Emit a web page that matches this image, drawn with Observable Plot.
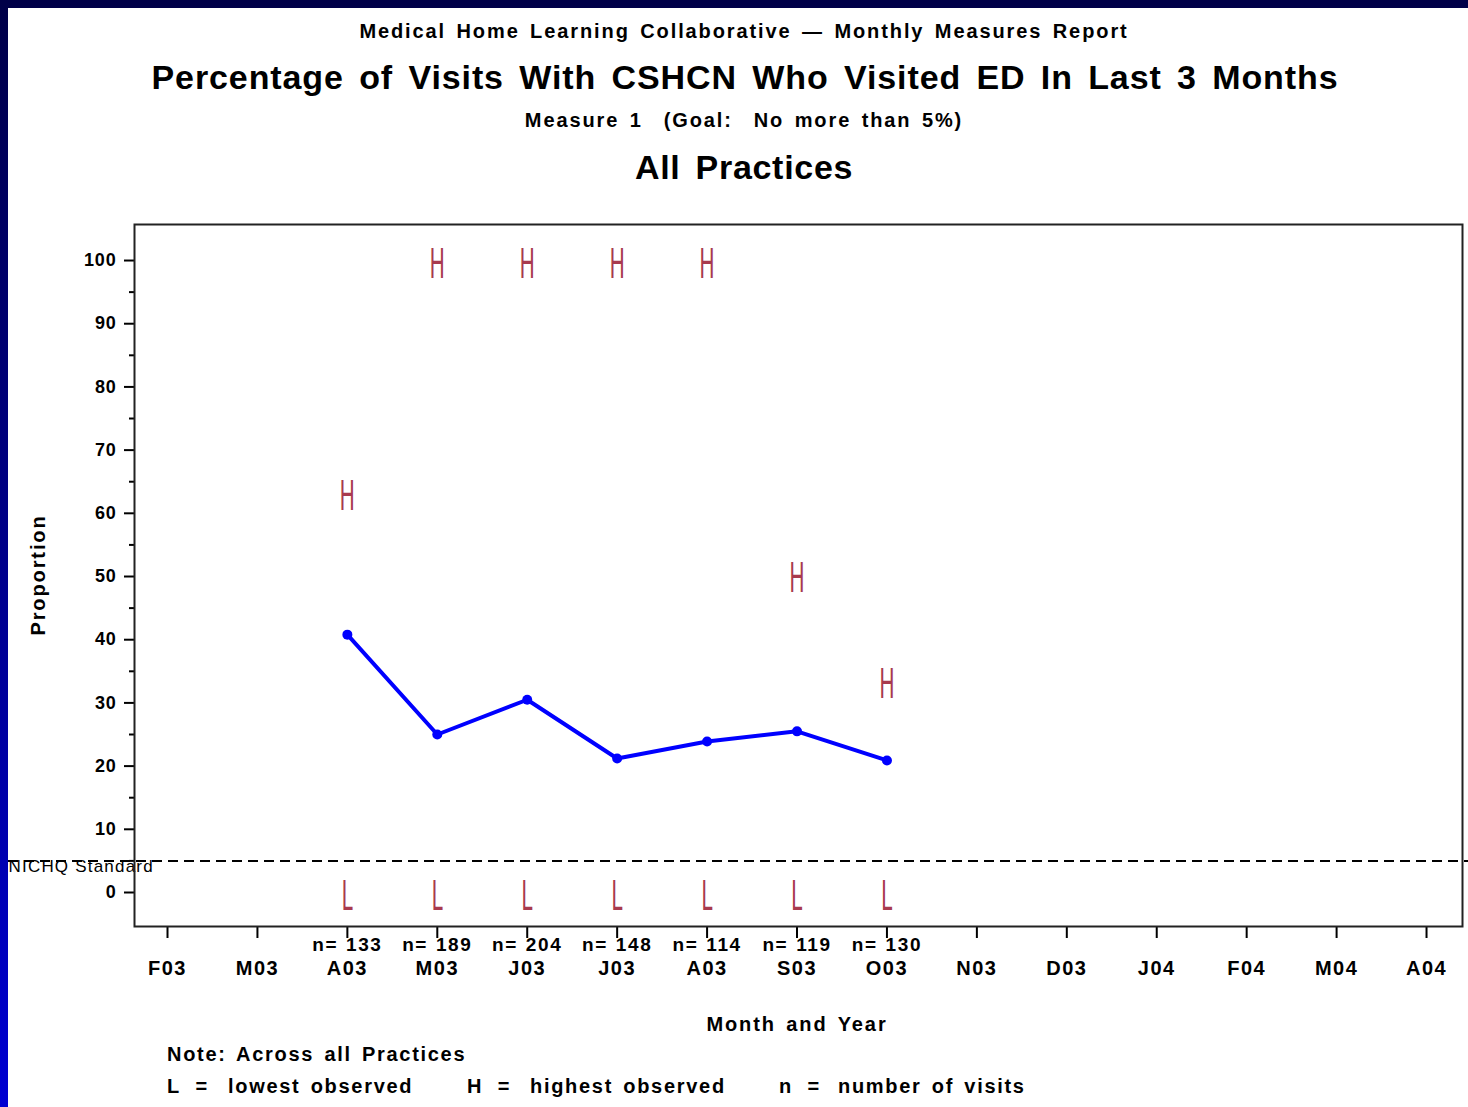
<!DOCTYPE html>
<html>
<head>
<meta charset="utf-8">
<script src="https://cdn.jsdelivr.net/npm/d3@7"></script>
<script src="https://cdn.jsdelivr.net/npm/@observablehq/plot@0.6"></script>
<style>
  html, body { margin: 0; padding: 0; }
  body { width: 1468px; height: 1107px; position: relative; overflow: hidden;
         background: linear-gradient(to bottom, #000048 0%, #00008a 50%, #0000d2 100%); }
  #panel { position: absolute; left: 8px; top: 8px; width: 1460px; height: 1099px; background: #fff; }
  .t { position: absolute; white-space: nowrap; font-family: "Liberation Sans", Arial, sans-serif; color: #000; font-weight: bold; }
  .c { transform: translate(-50%, -50%); }
  .s { font-size: 20px; letter-spacing: 1.9px; word-spacing: 3px; }
  .f { font-size: 20px; letter-spacing: 1.7px; }
  #chart { position: absolute; left: 0; top: 0; }
</style>
</head>
<body>
<div id="panel"></div>
<div id="chart"></div>
<div class="t c s" style="left:744px; top:31px;">Medical Home Learning Collaborative — Monthly Measures Report</div>
<div class="t c" style="left:745px; top:77px; font-size:34px; letter-spacing:0.9px; word-spacing:5px;">Percentage of Visits With CSHCN Who Visited ED In Last 3 Months</div>
<div class="t c s" style="left:744px; top:120px;">Measure 1&nbsp; (Goal:&nbsp; No more than 5%)</div>
<div class="t c" style="left:744px; top:167px; font-size:34px; letter-spacing:0.7px; word-spacing:5px;">All Practices</div>
<div class="t c s" style="left:38px; top:575px; transform: translate(-50%, -50%) rotate(-90deg);">Proportion</div>
<div class="t c s" style="left:797px; top:1024px;">Month and Year</div>
<div class="t f" style="left:167px; top:1043px; word-spacing:3px;">Note: Across all Practices</div>
<div class="t f" style="left:167px; top:1075px;">L&nbsp; =</div>
<div class="t f" style="left:228px; top:1075px; word-spacing:3px;">lowest observed</div>
<div class="t f" style="left:467px; top:1075px;">H&nbsp; =</div>
<div class="t f" style="left:530px; top:1075px; word-spacing:3px;">highest observed</div>
<div class="t f" style="left:779px; top:1075px;">n&nbsp; =</div>
<div class="t f" style="left:838px; top:1075px; word-spacing:3px;">number of visits</div>
<script>
// ---- data ----
const monthLabels = ["F03","M03","A03","M03","J03","J03","A03","S03","O03","N03","D03","J04","F04","M04","A04"];
const obsMonth   = [2, 3, 4, 5, 6, 7, 8];           // positions in monthLabels with data
const proportion = [40.8, 25.0, 30.5, 21.2, 23.9, 25.5, 20.9];
const highest    = [63.3, 100, 100, 100, 100, 50.3, 33.6];
const lowest     = [0, 0, 0, 0, 0, 0, 0];
const nVisits    = [133, 189, 204, 148, 114, 119, 130];
const goal = 5;
const goalLabel = "NICHQ Standard";
const yTicks = [0, 10, 20, 30, 40, 50, 60, 70, 80, 90, 100];
const yMinorTicks = [5, 15, 25, 35, 45, 55, 65, 75, 85, 95];

const rows = obsMonth.map((m, i) => ({
  m, p: proportion[i], hi: highest[i], lo: lowest[i], n: nVisits[i]
}));

const hlColor = "#a83a4e";
const blue = "#0000ff";

const chart = Plot.plot({
  width: 1468,
  height: 1107,
  marginLeft: 134,
  marginRight: 6,
  marginTop: 224,
  marginBottom: 181,
  style: { background: "transparent", fontFamily: "Liberation Sans, Arial, sans-serif", fontSize: "17px", color: "#000", overflow: "visible" },
  x: { domain: [-0.367, 14.40] },
  y: { domain: [-5.38, 105.7] },
  marks: [
    Plot.axisY({ ticks: yTicks, tickSize: 10, tickPadding: 8, label: null, strokeWidth: 2, fontWeight: "bold", fontSize: 18, className: "yax" }),
    Plot.axisY({ ticks: yMinorTicks, tickSize: 5, tickFormat: () => "", label: null, strokeWidth: 2 }),
    Plot.axisX({ ticks: d3.range(monthLabels.length), tickFormat: i => monthLabels[i], tickSize: 12, tickPadding: 22, label: null, strokeWidth: 2, fontWeight: "bold", fontSize: 20, className: "xax" }),
    Plot.ruleY([goal], { stroke: "#000", strokeWidth: 2, strokeDasharray: "10,6", insetLeft: -126, insetRight: -6 }),
    Plot.text([goal], { y: d => d, text: () => goalLabel, frameAnchor: "left", dx: -126, dy: 6, textAnchor: "start", fontSize: 17, className: "goal-label" }),
    Plot.line(rows, { x: "m", y: "p", stroke: blue, strokeWidth: 4 }),
    Plot.dot(rows, { x: "m", y: "p", r: 5, fill: blue }),
    Plot.text(rows, { x: "m", y: "hi", text: () => "H", fill: hlColor, fontSize: 42, dy: 4, fontFamily: "Roboto, DejaVu Sans, sans-serif", fontWeight: 400, className: "hl" }),
    Plot.text(rows, { x: "m", y: "lo", text: () => "L", fill: hlColor, fontSize: 42, dy: 4, fontFamily: "Roboto, DejaVu Sans, sans-serif", fontWeight: 400, className: "hl" }),
    Plot.text(rows, { x: "m", text: d => "n= " + d.n, frameAnchor: "bottom", dy: 24, fontWeight: "bold", fontSize: 19, className: "nlab" }),
    Plot.frame({ stroke: "#222", strokeWidth: 2 })
  ]
});

document.getElementById("chart").appendChild(chart);

// narrow the H / L glyphs (horizontal condense), tweak label spacing
d3.select(chart).selectAll(".hl text").each(function () {
  const el = d3.select(this);
  const t = el.attr("transform");
  if (t) {
    el.attr("transform", t + " scale(0.5,1)");
  } else {
    const x = +el.attr("x") || 0, y = +el.attr("y") || 0;
    el.attr("x", null).attr("y", null).attr("transform", `translate(${x},${y}) scale(0.5,1)`);
  }
});
d3.select(chart).selectAll(".goal-label text").style("letter-spacing", "1.2px");
d3.select(chart).selectAll(".nlab text").style("letter-spacing", "1.6px").style("word-spacing", "1px");
d3.select(chart).selectAll(".xax text").style("letter-spacing", "1.5px");
d3.select(chart).selectAll(".yax text").style("letter-spacing", "0.8px");
</script>
</body>
</html>
